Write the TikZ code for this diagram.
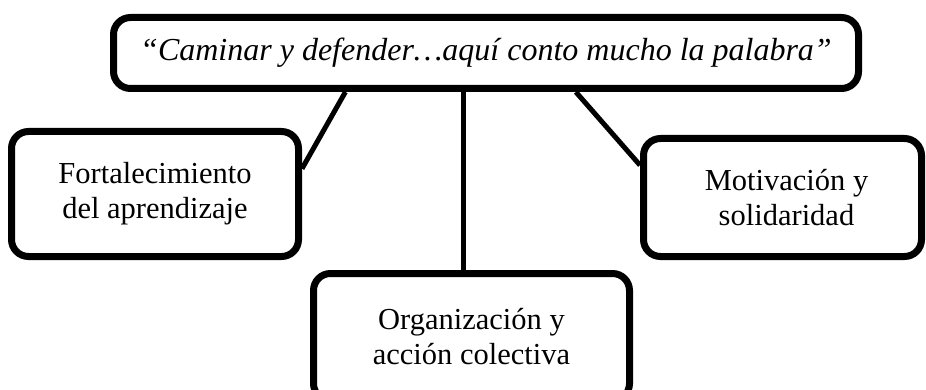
\documentclass[tikz,border=0pt]{standalone}
\usepackage{fontspec}
\setmainfont{Liberation Serif}
\usetikzlibrary{calc,backgrounds}
\begin{document}
\begin{tikzpicture}[x=1pt,y=-1pt,
  box/.style={draw, line width=7pt, rounded corners=17pt, align=center,
    font=\fontsize{30.5}{35}\selectfont, inner sep=0pt},
  link/.style={line width=5pt}]
\useasboundingbox (0,0) rectangle (926,390);
\node[box, minimum width=745pt, minimum height=71pt,
  font=\itshape\fontsize{32}{36}\selectfont] (top) at (486,53)
  {“Caminar y defender…aquí conto mucho la palabra”};
\node[box, minimum width=287pt, minimum height=125pt] (fort) at (155,194)
  {Fortalecimiento\\del aprendizaje};
\node[box, minimum width=278pt, minimum height=118pt] (moti) at (782.5,197.5)
  {\hspace*{8pt}Motivación y\\\hspace*{8pt}solidaridad};
\node[box, minimum width=316pt, minimum height=127pt] (orga) at (471.5,337)
  {Organización y\\acción colectiva};
\begin{scope}[on background layer]
\draw[link] ($(top.south west)!0.313!(top.south east)$) -- ($(fort.north east)!0.308!(fort.south east)$);
\coordinate (mtop) at ($(top.south west)!0.4705!(top.south east)$);
\draw[link] (mtop) -- (mtop |- orga.north);
\draw[link] ($(top.south west)!0.6195!(top.south east)$) -- ($(moti.north west)!0.2415!(moti.south west)$);
\end{scope}
\end{tikzpicture}
\end{document}
